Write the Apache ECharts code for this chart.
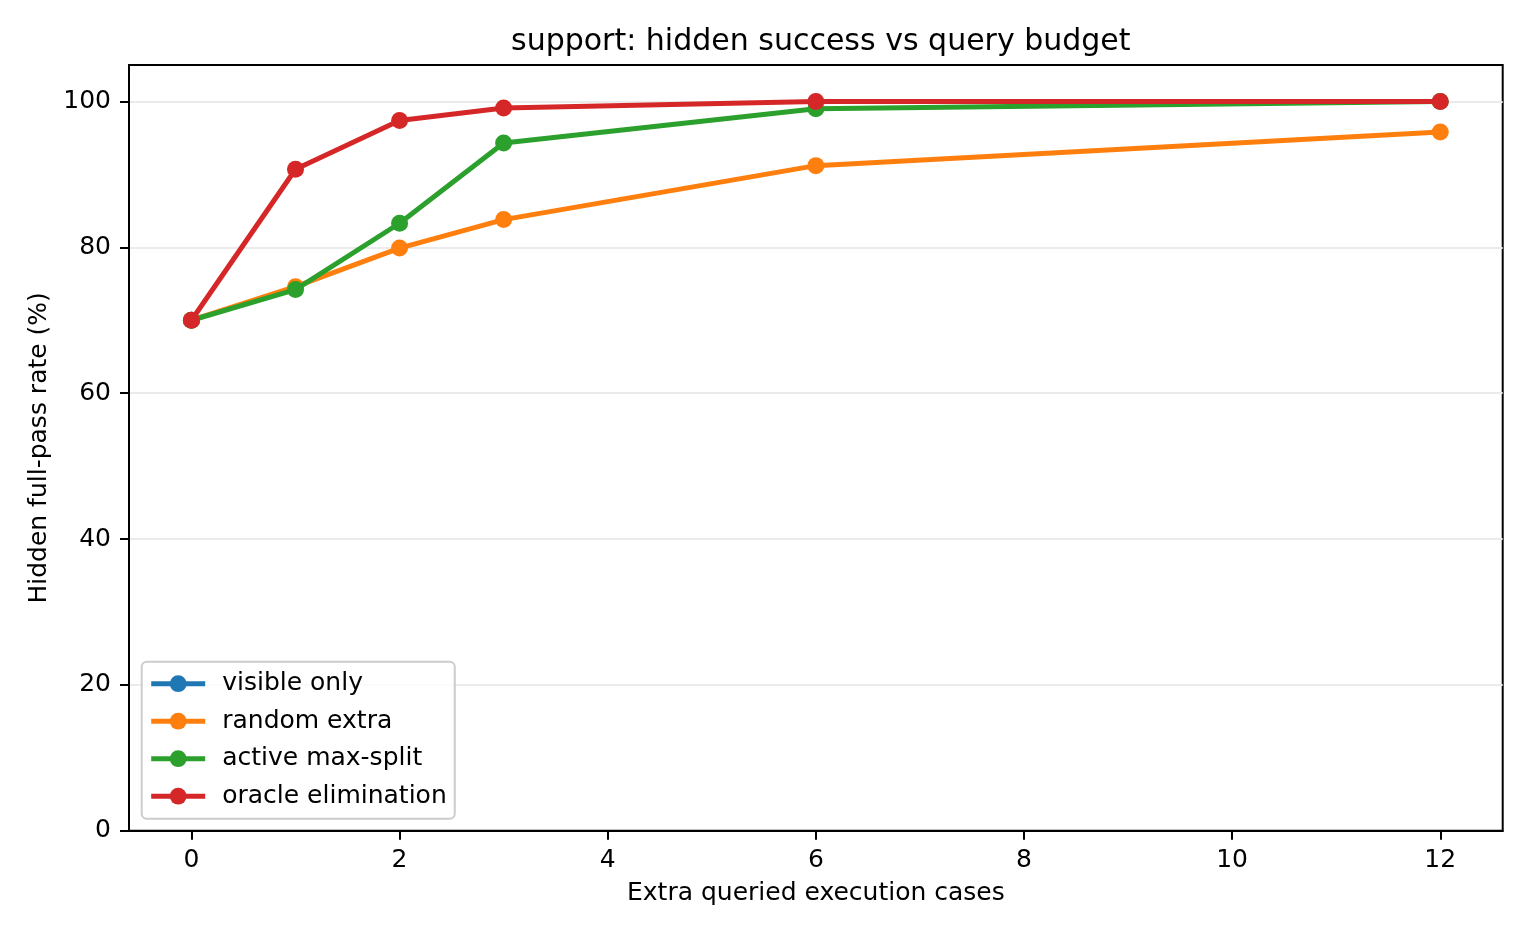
<!DOCTYPE html>
<html>
<head>
<meta charset="utf-8">
<script src="https://cdn.jsdelivr.net/npm/echarts@6/dist/echarts.min.js"></script>
<style>
html,body{margin:0;padding:0;background:#fff;}
#chart{width:1530px;height:936px;}
</style>
</head>
<body>
<div id="chart"></div>
<script>
const budgets = [0, 1, 2, 3, 6, 12];
const visibleOnly = [70];
const randomExtra = [70, 74.6, 79.9, 83.8, 91.2, 95.8];
const activeMaxSplit = [70, 74.2, 83.3, 94.3, 99.0, 100];
const oracleElimination = [70, 90.7, 97.4, 99.1, 100, 100];
const xTicks = [0, 2, 4, 6, 8, 10, 12];
const yTicks = [0, 20, 40, 60, 80, 100];
const seriesNames = ['visible only', 'random extra', 'active max-split', 'oracle elimination'];
const colors = ['#1f77b4', '#ff7f0e', '#2ca02c', '#d62728'];

function pairs(vals) { return vals.map((v, i) => [budgets[i], v]); }
const seriesData = [visibleOnly, randomExtra, activeMaxSplit, oracleElimination];

const FONT = 'DejaVu Sans';
const chart = echarts.init(document.getElementById('chart'), null, {renderer: 'canvas'});
chart.setOption({
  animation: false,
  backgroundColor: '#fff',
  title: {
    text: 'support: hidden success vs query budget',
    left: 815.8, top: 22.5, textAlign: 'center',
    textStyle: {fontFamily: FONT, fontSize: 30, fontWeight: 'normal', color: '#000'}
  },
  grid: {
    left: 129, right: 27.3, top: 65, bottom: 105.3,
    show: true, borderColor: '#000', borderWidth: 2, backgroundColor: 'transparent'
  },
  legend: {
    orient: 'vertical',
    left: 141.7, top: 661.7,
    padding: [9.5, 8, 10, 7],
    itemWidth: 54, itemHeight: 21, itemGap: 12.5,
    backgroundColor: 'rgba(255,255,255,0.8)',
    borderColor: '#cccccc', borderWidth: 2, borderRadius: 5,
    lineStyle: {width: 5},
    textStyle: {fontFamily: FONT, fontSize: 25, color: '#000', lineHeight: 21, padding: [0, 0, 0, 12]},
    data: seriesNames
  },
  xAxis: {
    type: 'value', min: -0.6, max: 12.6,
    name: 'Extra queried execution cases', nameLocation: 'middle', nameGap: 50,
    nameTextStyle: {fontFamily: FONT, fontSize: 25, color: '#000'},
    axisLine: {show: true, onZero: false, lineStyle: {color: '#000', width: 2}},
    axisTick: {show: true, customValues: xTicks, length: 9, lineStyle: {color: '#000', width: 2}},
    axisLabel: {customValues: xTicks, margin: 17, fontFamily: FONT, fontSize: 25, color: '#000'},
    splitLine: {show: false}
  },
  yAxis: {
    type: 'value', min: 0, max: 105,
    name: 'Hidden full-pass rate (%)', nameLocation: 'middle', nameGap: 72,
    nameTextStyle: {fontFamily: FONT, fontSize: 25, color: '#000'},
    axisLine: {show: true, onZero: false, lineStyle: {color: '#000', width: 2}},
    axisTick: {show: true, customValues: yTicks, length: 9, lineStyle: {color: '#000', width: 2}},
    axisLabel: {customValues: yTicks, margin: 18, fontFamily: FONT, fontSize: 25, color: '#000'},
    splitLine: {show: true, lineStyle: {color: '#ebebeb', width: 2}}
  },
  series: seriesNames.map((name, i) => ({
    name: name,
    type: 'line',
    data: pairs(seriesData[i]),
    symbol: 'circle',
    symbolSize: 17,
    showSymbol: true,
    color: colors[i],
    lineStyle: {width: 5, color: colors[i]},
    itemStyle: {color: colors[i]},
    z: 2 + i
  }))
});
</script>
</body>
</html>
